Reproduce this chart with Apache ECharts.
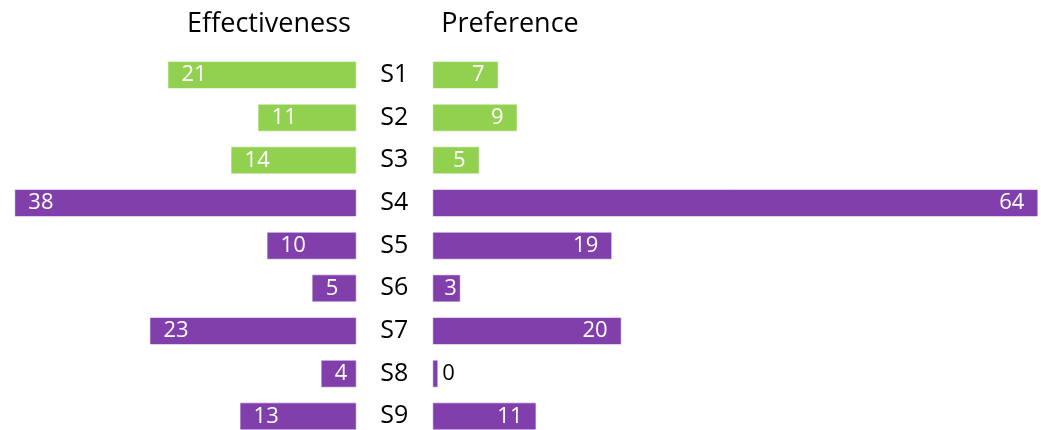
<!DOCTYPE html>
<html>
<head>
<meta charset="utf-8">
<script src="https://cdn.jsdelivr.net/npm/echarts@6/dist/echarts.min.js"></script>
<style>
html,body{margin:0;padding:0;background:#fff;}
#c{width:1041px;height:430px;}
</style>
</head>
<body>
<div id="c"></div>
<script>
const categories = ['S1','S2','S3','S4','S5','S6','S7','S8','S9'];
const effectiveness = [21, 11, 14, 38, 10, 5, 23, 4, 13];
const preference = [7, 9, 5, 64, 19, 3, 20, 0, 11];
const titles = ['Effectiveness', 'Preference'];

const GREEN = '#92D050';
const PURPLE = '#803FAB';
const FONT = 'Open Sans';
const colorOf = (i) => (i < 3 ? GREEN : PURPLE);

const chart = echarts.init(document.getElementById('c'), null, {renderer: 'canvas'});

const prefData = preference.map((v) => {
  const d = {value: v};
  if (v === 0) {
    d.label = {position: 'right', color: '#000', distance: 4};
  } else if (v < 4) {
    d.label = {distance: 4};
  }
  return d;
});

chart.setOption({
  animation: false,
  backgroundColor: '#fff',
  title: [
    {text: titles[0], left: 264, top: 6, textAlign: 'center',
     textStyle: {fontFamily: FONT, fontSize: 27, fontWeight: 'normal', color: '#000'}},
    {text: titles[1], left: 505, top: 6, textAlign: 'center',
     textStyle: {fontFamily: FONT, fontSize: 27, fontWeight: 'normal', color: '#000'}}
  ],
  grid: [
    {left: 14.3, width: 342.4, top: 53.7, height: 384, containLabel: false, outerBoundsMode: 'none'},
    {left: 432.3, width: 606, top: 53.7, height: 384, containLabel: false, outerBoundsMode: 'none'}
  ],
  xAxis: [
    {gridIndex: 0, type: 'value', min: 0, max: 38, inverse: true, show: false},
    {gridIndex: 1, type: 'value', min: 0, max: 64, show: false}
  ],
  yAxis: [
    {gridIndex: 0, type: 'category', data: categories, inverse: true, show: false},
    {gridIndex: 1, type: 'category', data: categories, inverse: true,
     axisLine: {show: false}, axisTick: {show: false}, splitLine: {show: false},
     axisLabel: {align: 'center', margin: 38, fontFamily: FONT, fontSize: 25, color: '#000'}}
  ],
  series: [
    {
      type: 'bar', xAxisIndex: 0, yAxisIndex: 0, data: effectiveness,
      barWidth: 28,
      itemStyle: {color: (p) => colorOf(p.dataIndex), borderColor: 'rgba(255,255,255,0.55)', borderWidth: 1},
      label: {show: true, position: 'insideLeft', distance: 14, fontFamily: FONT, fontSize: 22, color: '#fff'}
    },
    {
      type: 'bar', xAxisIndex: 1, yAxisIndex: 1, data: prefData,
      barWidth: 28, barMinHeight: 6,
      itemStyle: {color: (p) => colorOf(p.dataIndex), borderColor: 'rgba(255,255,255,0.55)', borderWidth: 1},
      label: {show: true, position: 'insideRight', distance: 14, fontFamily: FONT, fontSize: 22, color: '#fff'}
    }
  ]
});
</script>
</body>
</html>
